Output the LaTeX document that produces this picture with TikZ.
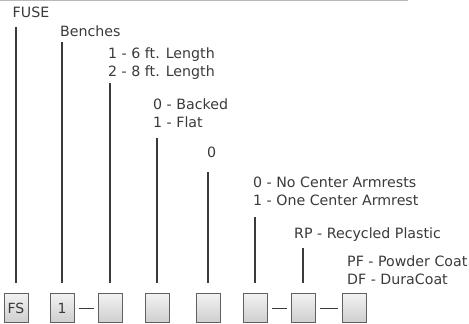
\documentclass[tikz,border=0pt]{standalone}
\usepackage{fontspec}
\setmainfont{DejaVu Sans}
\definecolor{ink}{HTML}{3A3A3A}
\definecolor{rim}{HTML}{606060}
\tikzset{
  lbl/.style={anchor=base west,inner sep=0pt,align=left,text=ink,
    font=\fontsize{14.2}{18}\selectfont},
  slot/.style={draw=rim,line width=1pt,minimum width=24pt,minimum height=29pt,
    inner sep=0pt,top color=gray!10,bottom color=gray!38,text=ink,
    font=\fontsize{14}{18}\selectfont},
  lead/.style={draw=ink,line width=2pt,shorten >=10pt},
  link/.style={draw=ink,line width=1pt,shorten <=4pt,shorten >=4pt}
}
\begin{document}
\begin{tikzpicture}[x=1pt,y=-1pt]
\useasboundingbox (0,0) rectangle (469,324);
%rule
\draw [line width=1.5pt,color=gray!55] (0,0.5) -- (408,0.5);

%boxes
\node[slot] (fs) at (16,308) {FS};
\node[slot] (bench) at (62,308) {1};
\node[slot] (size) at (110,308) {};
\node[slot] (back) at (157,308) {};
\node[slot] (zero) at (208,308) {};
\node[slot] (arm) at (255,308) {};
\node[slot] (mat) at (303,308) {};
\node[slot] (coat) at (354.5,308) {};

%labels (base of last line)
\node[lbl] (fuse) at (12.5,17) {FUSE};
\node[lbl] (benches) at (60,36) {Benches};
\node[lbl] (length) at (108,76) {1 - 6 ft. Length\\2 - 8 ft. Length};
\node[lbl] (style) at (153,127) {0 - Backed\\1 - Flat};
\node[lbl] (zerolbl) at (207,157) {0};
\node[lbl] (armlbl) at (253,205) {0 - No Center Armrests\\1 - One Center Armrest};
\node[lbl] (matlbl) at (294,238) {RP - Recycled Plastic};
\node[lbl] (coatlbl) at (347,284) {PF - Powder Coat\\DF - DuraCoat};

%leads
\coordinate (fstop) at (16,27);
\coordinate (benchtop) at (62,42);
\coordinate (sizetop) at (110,83);
\coordinate (backtop) at (157,138);
\coordinate (zerotop) at (208,172);
\coordinate (armtop) at (255,217);
\coordinate (mattop) at (303,248);
\draw[lead] (fstop) -- (fs);
\draw[lead] (benchtop) -- (bench);
\draw[lead] (sizetop) -- (size);
\draw[lead] (backtop) -- (back);
\draw[lead] (zerotop) -- (zero);
\draw[lead] (armtop) -- (arm);
\draw[lead] (mattop) -- (mat);

%dashes
\draw[link] (bench) -- (size);
\draw[link] (arm) -- (mat);
\draw[link] (mat) -- (coat);
\end{tikzpicture}
\end{document}
